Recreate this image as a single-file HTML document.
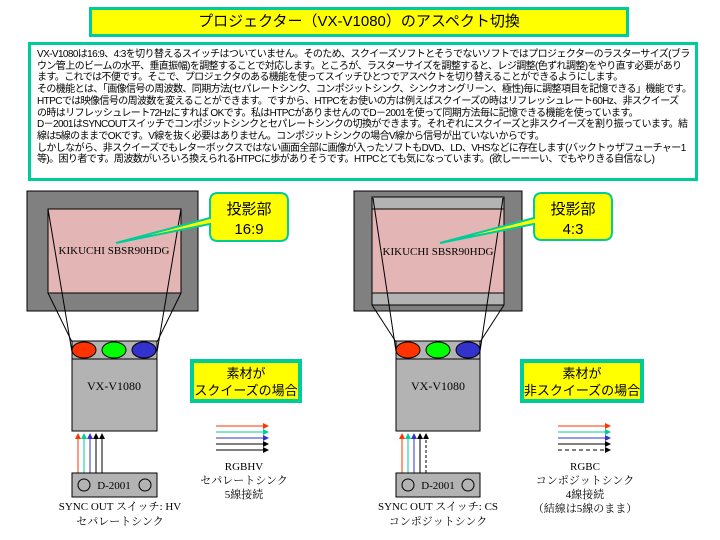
<!DOCTYPE html>
<html><head><meta charset="utf-8"><style>
body{margin:0;width:720px;height:540px;background:#fff;position:relative;overflow:hidden;font-family:"Liberation Sans","Noto Sans CJK JP",sans-serif;}
.title{position:absolute;left:89px;top:7px;width:534px;height:24px;background:#ff0;border:3px solid #00cc99;text-align:center;font-size:15px;line-height:24px;color:#000;}
.txt{position:absolute;left:28px;top:42px;width:658px;height:129px;border:3px solid #00cc99;background:#fff;font-size:10px;line-height:11.7px;padding:4px 0 0 6px;box-sizing:content-box;overflow:hidden;}
.txt div{white-space:nowrap;letter-spacing:-0.6px;}
</style></head><body>
<div class="title">プロジェクター（VX-V1080）のアスペクト切換</div>
<div class="txt">
<div>VX-V1080は16:9、4:3を切り替えるスイッチはついていません。そのため、スクイーズソフトとそうでないソフトではプロジェクターのラスターサイズ(ブラ</div>
<div>ウン管上のビームの水平、垂直振幅)を調整することで対応します。ところが、ラスターサイズを調整すると、レジ調整(色ずれ調整)をやり直す必要があり</div>
<div>ます。これでは不便です。そこで、プロジェクタのある機能を使ってスイッチひとつでアスペクトを切り替えることができるようにします。</div>
<div>その機能とは、「画像信号の周波数、同期方法(セパレートシンク、コンポジットシンク、シンクオングリーン、極性)毎に調整項目を記憶できる」機能です。</div>
<div>HTPCでは映像信号の周波数を変えることができます。ですから、HTPCをお使いの方は例えばスクイーズの時はリフレッシュレート60Hz、非スクイーズ</div>
<div>の時はリフレッシュレート72Hzにすれば OKです。私はHTPCがありませんのでD－2001を使って同期方法毎に記憶できる機能を使っています。</div>
<div>D－2001はSYNCOUTスイッチでコンポジットシンクとセパレートシンクの切換ができます。それぞれにスクイーズと非スクイーズを割り振っています。結</div>
<div>線は5線のままでOKです。V線を抜く必要はありません。コンポジットシンクの場合V線から信号が出ていないからです。</div>
<div>しかしながら、非スクイーズでもレターボックスではない画面全部に画像が入ったソフトもDVD、LD、VHSなどに存在します(バックトゥザフューチャー1</div>
<div>等)。困り者です。周波数がいろいろ換えられるHTPCに歩がありそうです。HTPCとても気になっています。(欲しーーーい、でもやりきる自信なし)</div>
</div>
<svg width="720" height="540" style="position:absolute;left:0;top:0" font-family="Liberation Serif, Noto Serif CJK SC, serif">
<defs>
<marker id="r" markerWidth="6" markerHeight="6" refX="5" refY="3" orient="auto" markerUnits="userSpaceOnUse"><path d="M0,0L6,3L0,6z" fill="#ff3300"/></marker>
<marker id="g" markerWidth="6" markerHeight="6" refX="5" refY="3" orient="auto" markerUnits="userSpaceOnUse"><path d="M0,0L6,3L0,6z" fill="#00cc99"/></marker>
<marker id="b" markerWidth="6" markerHeight="6" refX="5" refY="3" orient="auto" markerUnits="userSpaceOnUse"><path d="M0,0L6,3L0,6z" fill="#3333cc"/></marker>
<marker id="k" markerWidth="6" markerHeight="6" refX="5" refY="3" orient="auto" markerUnits="userSpaceOnUse"><path d="M0,0L6,3L0,6z" fill="#000"/></marker>
</defs>
<rect x="27" y="191" width="171" height="120" fill="#808080" stroke="#000"/>
<rect x="48" y="209" width="133" height="84" fill="#e3b5b5" stroke="#000"/>
<g stroke="#000" stroke-width="1">
<line x1="48" y1="209" x2="73" y2="358"/><line x1="48" y1="293" x2="72" y2="342"/>
<line x1="181" y1="209" x2="156" y2="358"/><line x1="181" y1="293" x2="157" y2="342"/>
</g>
<text x="114" y="254" font-size="11" text-anchor="middle">KIKUCHI SBSR90HDG</text>
<rect x="72" y="341" width="85" height="18" fill="#b3b3b3" stroke="#000"/>
<ellipse cx="84" cy="350" rx="12" ry="8" fill="#ff3300" stroke="#000"/>
<ellipse cx="114" cy="350" rx="12" ry="8" fill="#00ff00" stroke="#000"/>
<ellipse cx="144" cy="350" rx="12" ry="8" fill="#3333cc" stroke="#000"/>
<rect x="72" y="359" width="85" height="72" fill="#b3b3b3" stroke="#000"/>
<text x="114" y="390" font-size="12" text-anchor="middle">VX-V1080</text>
<line x1="78" y1="473" x2="78" y2="434" stroke="#ff3300" marker-end="url(#r)"/>
<line x1="84" y1="473" x2="84" y2="434" stroke="#00cc99" marker-end="url(#g)"/>
<line x1="90" y1="473" x2="90" y2="434" stroke="#3333cc" marker-end="url(#b)"/>
<line x1="96" y1="473" x2="96" y2="434" stroke="#000" marker-end="url(#k)"/>
<line x1="102" y1="473" x2="102" y2="434" stroke="#000" marker-end="url(#k)"/>
<rect x="72" y="473" width="85" height="24" fill="#b3b3b3" stroke="#000"/>
<circle cx="84" cy="485" r="6" fill="none" stroke="#000"/><circle cx="145" cy="485" r="6" fill="none" stroke="#000"/>
<text x="114" y="489" font-size="11" text-anchor="middle">D-2001</text>
<text x="120" y="510" font-size="11" text-anchor="middle">SYNC OUT スイッチ: HV</text>
<text x="120" y="525" font-size="11" text-anchor="middle">セパレートシンク</text>
<path d="M218,193 H280 Q288,193 288,201 V233 Q288,241 280,241 H218 Q210,241 210,233 V224 L116,243 L210,218 V201 Q210,193 218,193Z" fill="#ff0" stroke="#00cc99" stroke-width="2"/>
<text x="249" y="214" font-size="15" text-anchor="middle" font-family="Liberation Sans, Noto Sans CJK JP, sans-serif">投影部</text>
<text x="249" y="234" font-size="15" text-anchor="middle" font-family="Liberation Sans, Noto Sans CJK JP, sans-serif">16:9</text>
<rect x="192" y="361" width="108" height="40" fill="#ff0" stroke="#00cc99" stroke-width="4"/>
<text x="246" y="378" font-size="13" text-anchor="middle" font-family="Liberation Sans, Noto Sans CJK JP, sans-serif">素材が</text>
<text x="246" y="395" font-size="13" text-anchor="middle" font-family="Liberation Sans, Noto Sans CJK JP, sans-serif">スクイーズの場合</text>
<line x1="216" y1="426" x2="268" y2="426" stroke="#ff3300" marker-end="url(#r)"/>
<line x1="216" y1="432" x2="268" y2="432" stroke="#00cc99" marker-end="url(#g)"/>
<line x1="216" y1="438" x2="268" y2="438" stroke="#3333cc" marker-end="url(#b)"/>
<line x1="216" y1="444" x2="268" y2="444" stroke="#000" marker-end="url(#k)"/>
<line x1="216" y1="450" x2="268" y2="450" stroke="#000" marker-end="url(#k)"/>
<text x="244" y="470" font-size="11" text-anchor="middle">RGBHV</text>
<text x="244" y="484" font-size="11" text-anchor="middle">セパレートシンク</text>
<text x="244" y="498" font-size="11" text-anchor="middle">5線接続</text>
<rect x="354" y="191" width="168" height="120" fill="#808080" stroke="#000"/>
<rect x="372" y="197" width="132" height="108" fill="#b3b3b3" stroke="#000"/>
<rect x="372" y="209" width="132" height="84" fill="#e3b5b5" stroke="#000"/>
<g stroke="#000">
<line x1="373" y1="198" x2="397" y2="358"/><line x1="372" y1="305" x2="396" y2="342"/>
<line x1="503" y1="198" x2="479" y2="358"/><line x1="504" y1="305" x2="480" y2="342"/>
</g>
<text x="438" y="255" font-size="11" text-anchor="middle">KIKUCHI SBSR90HDG</text>
<rect x="396" y="341" width="84" height="18" fill="#b3b3b3" stroke="#000"/>
<ellipse cx="408" cy="350" rx="12" ry="8" fill="#ff3300" stroke="#000"/>
<ellipse cx="438" cy="350" rx="12" ry="8" fill="#00ff00" stroke="#000"/>
<ellipse cx="468" cy="350" rx="12" ry="8" fill="#3333cc" stroke="#000"/>
<rect x="396" y="359" width="84" height="72" fill="#b3b3b3" stroke="#000"/>
<text x="438" y="390" font-size="12" text-anchor="middle">VX-V1080</text>
<line x1="402" y1="473" x2="402" y2="434" stroke="#ff3300" marker-end="url(#r)"/>
<line x1="408" y1="473" x2="408" y2="434" stroke="#00cc99" marker-end="url(#g)"/>
<line x1="414" y1="473" x2="414" y2="434" stroke="#3333cc" marker-end="url(#b)"/>
<line x1="420" y1="473" x2="420" y2="434" stroke="#000" marker-end="url(#k)"/>
<line x1="426" y1="473" x2="426" y2="434" stroke="#000" stroke-dasharray="3,2" marker-end="url(#k)"/>
<rect x="396" y="473" width="84" height="24" fill="#b3b3b3" stroke="#000"/>
<circle cx="408" cy="485" r="6" fill="none" stroke="#000"/><circle cx="468" cy="485" r="6" fill="none" stroke="#000"/>
<text x="438" y="489" font-size="11" text-anchor="middle">D-2001</text>
<text x="438" y="510" font-size="11" text-anchor="middle">SYNC OUT スイッチ: CS</text>
<text x="438" y="525" font-size="11" text-anchor="middle">コンポジットシンク</text>
<path d="M542,193 H604 Q612,193 612,201 V232 Q612,240 604,240 H542 Q534,240 534,232 V224 L440,243 L534,218 V201 Q534,193 542,193Z" fill="#ff0" stroke="#00cc99" stroke-width="2"/>
<text x="573" y="214" font-size="15" text-anchor="middle" font-family="Liberation Sans, Noto Sans CJK JP, sans-serif">投影部</text>
<text x="573" y="234" font-size="15" text-anchor="middle" font-family="Liberation Sans, Noto Sans CJK JP, sans-serif">4:3</text>
<rect x="522" y="361" width="120" height="40" fill="#ff0" stroke="#00cc99" stroke-width="4"/>
<text x="582" y="378" font-size="13" text-anchor="middle" font-family="Liberation Sans, Noto Sans CJK JP, sans-serif">素材が</text>
<text x="582" y="395" font-size="13" text-anchor="middle" font-family="Liberation Sans, Noto Sans CJK JP, sans-serif">非スクイーズの場合</text>
<line x1="558" y1="426" x2="610" y2="426" stroke="#ff3300" marker-end="url(#r)"/>
<line x1="558" y1="432" x2="610" y2="432" stroke="#00cc99" marker-end="url(#g)"/>
<line x1="558" y1="438" x2="610" y2="438" stroke="#3333cc" marker-end="url(#b)"/>
<line x1="558" y1="444" x2="610" y2="444" stroke="#000" marker-end="url(#k)"/>
<line x1="558" y1="450" x2="610" y2="450" stroke="#000" stroke-dasharray="4,3" marker-end="url(#k)"/>
<text x="585" y="470" font-size="11" text-anchor="middle">RGBC</text>
<text x="585" y="484" font-size="11" text-anchor="middle">コンポジットシンク</text>
<text x="585" y="498" font-size="11" text-anchor="middle">4線接続</text>
<text x="585" y="512" font-size="11" text-anchor="middle">（結線は5線のまま）</text>
</svg>
</body></html>
